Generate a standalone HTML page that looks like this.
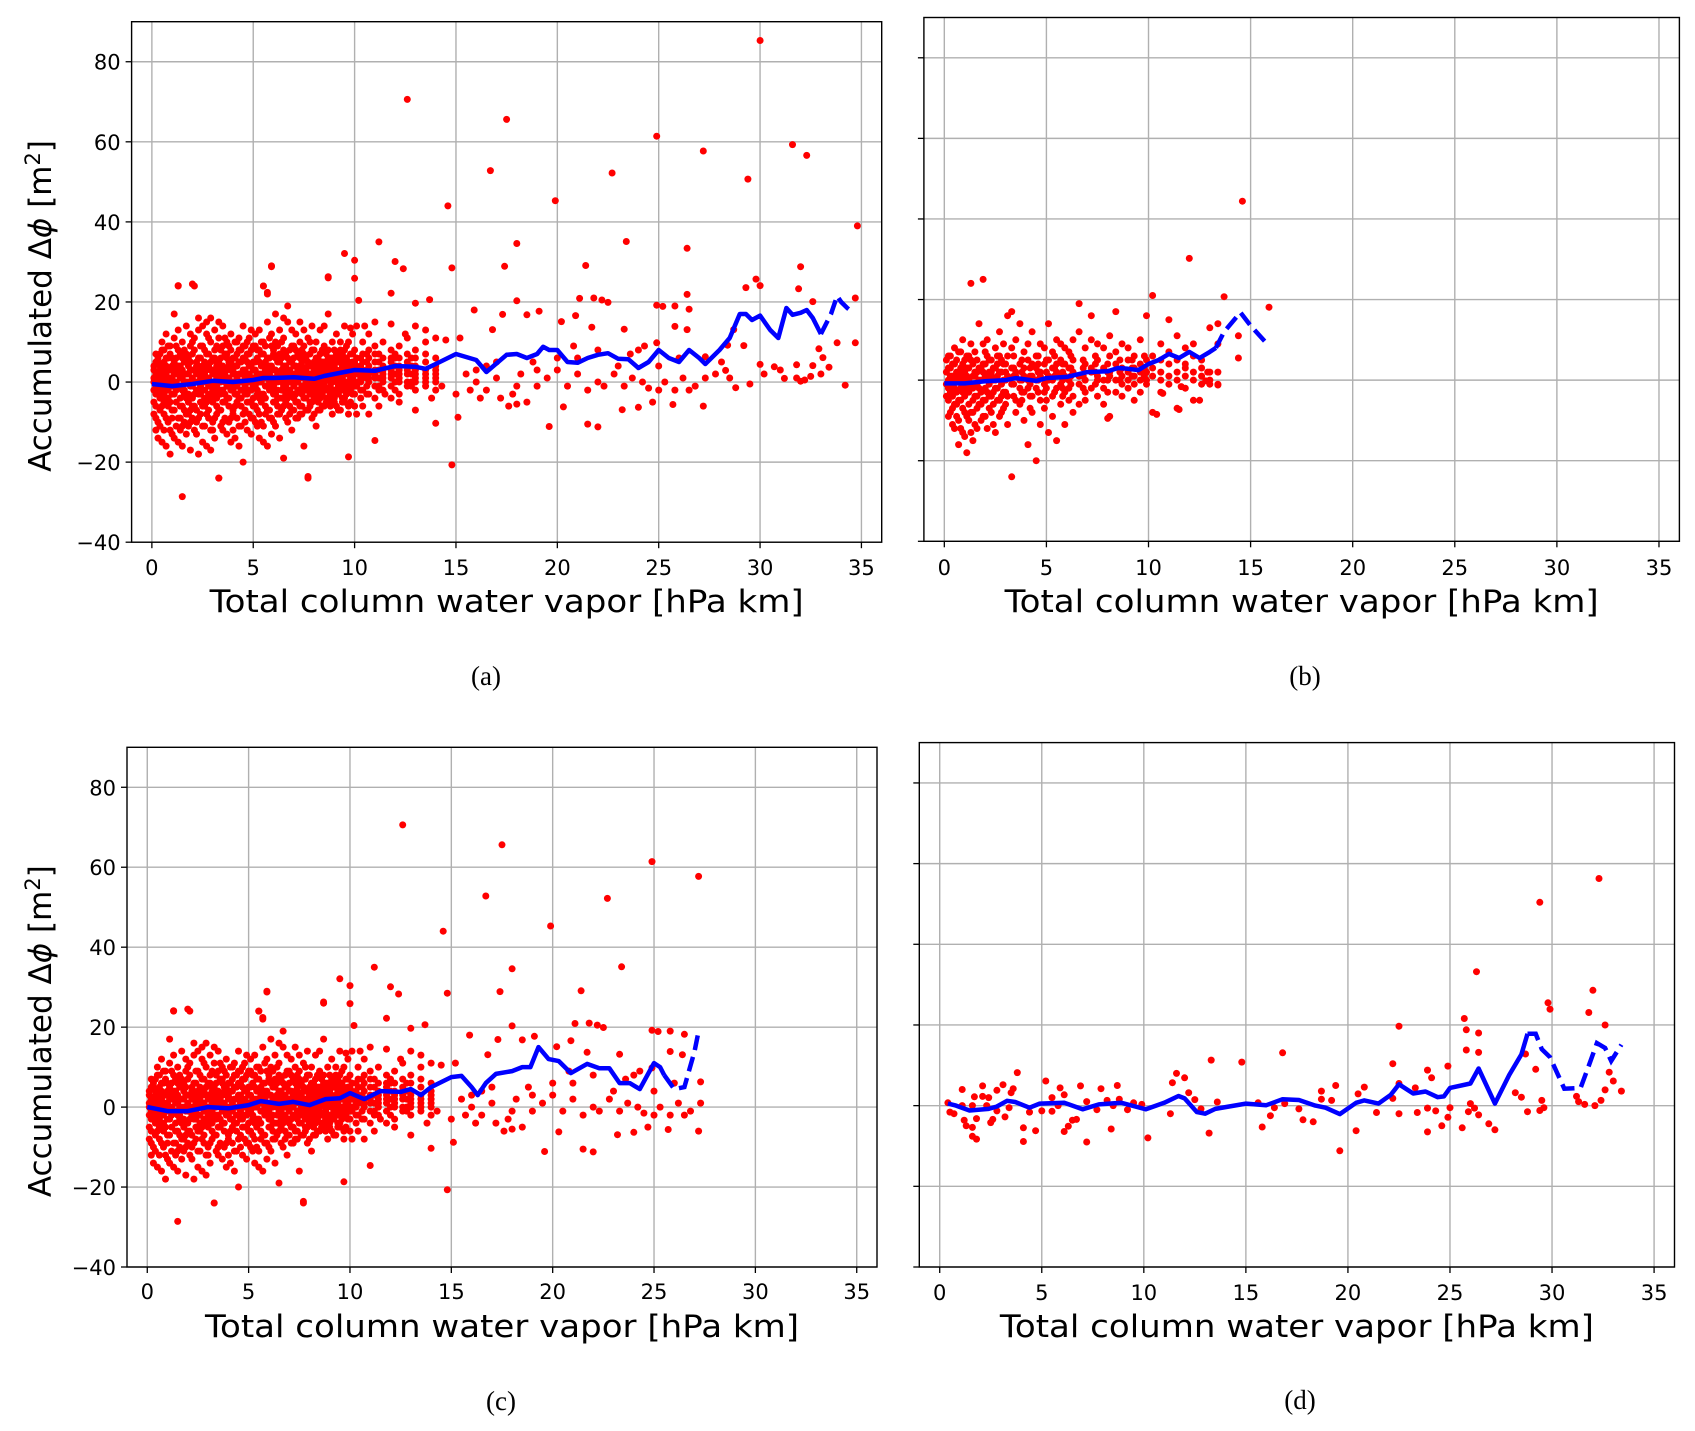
<!DOCTYPE html>
<html><head><meta charset="utf-8">
<style>
html,body{margin:0;padding:0;background:#fff;}
svg{display:block;}
text{font-family:"DejaVu Sans","Liberation Sans",sans-serif;fill:#000;}
.cap{font-family:"Liberation Serif",serif;}
</style></head>
<body>
<svg id="fig" width="1695" height="1431" viewBox="0 0 1695 1431" xmlns="http://www.w3.org/2000/svg"></svg>
<script>
// ---------- data ----------
const xTicks = [0,5,10,15,20,25,30,35];
const yTicks = [-40,-20,0,20,40,60,80];
const yTickLabels = ["\u221240","\u221220","0","20","40","60","80"];
const captions = ["(a)","(b)","(c)","(d)"];

// panel (a) dense cloud: x bins and y values
const cloudA = "0.1:-2,1,4,-5,-8,3,0;0.3:2,-3,5,-10,-14,0,6;0.5:-1,3,-6,8,-15,1,-4,10;0.7:0,-2,4,-9,12,-16,2,6;0.9:1,-5,7,-12,3,-18,9,-1;1.1:-3,2,5,-7,11,-14,17,0;1.3:4,-1,-9,8,-15,24,13,2;1.5:-2,6,-11,1,10,-16,3,-6;1.7:2,-4,7,-13,14,0,-8,5;1.9:-1,5,-7,9,-17,12,3,-10;2.1:3,-3,8,-12,24,0,-6,11;2.3:0,6,-9,13,-18,4,-3,16;2.5:-2,4,-11,9,2,-6,14,-15;2.7:1,-5,7,-8,12,-16,3,15;2.9:-1,3,10,-12,5,-4,16,-17;3.1:2,-3,8,-9,13,0,-14,6;3.3:0,5,-7,11,-24,15,-2,3;3.5:-2,4,-10,9,14,1,-5,-12;3.7:1,-4,7,-13,10,3,-1,6;3.9:3,-2,5,-9,12,-15,0,8;4.1:-1,6,-6,10,-14,2,-3,4;4.3:2,-4,8,-11,5,-16,0,11;4.5:0,3,-8,9,-20,14,-2,6;4.7:1,-5,5,-12,10,-3,7,2;4.9:-2,4,-9,8,-13,13,1,-5;5.1:3,-1,9,-6,12,0,-10,5;5.3:0,5,-4,13,-14,2,8,-8;5.5:2,-3,7,-11,24,4,-15,10;5.7:-1,6,-7,15,-16,1,22,3;5.9:1,-2,9,-9,29,4,-13,12;6.1:0,3,-5,10,-3,6,-11,17;6.3:2,-4,7,-8,13,1,-14,5;6.5:-1,4,-6,11,-19,8,0,16;6.7:1,-2,6,-10,15,3,-4,19;6.9:0,5,-7,9,2,-12,13,-3;7.1:2,-3,8,-5,12,0,-9,4;7.3:1,4,-6,10,15,-2,6,-8;7.5:-1,3,7,-4,13,1,-16,9;7.7:2,-2,5,-7,11,-24,0,4;7.9:0,4,-5,8,-9,14,2,-3;8.1:1,-3,6,10,-11,3,-1,5;8.3:2,4,-4,7,13,-2,0,-7;8.5:0,3,-6,9,-1,5,14,2;8.7:1,-2,6,17,26,3,-5,8;8.9:2,4,-4,10,0,-8,6,1;9.1:0,3,-3,7,12,-6,2,5;9.3:1,-2,5,10,-7,3,8,-1;9.5:2,4,-5,8,14,0,-4,6;9.7:0,3,-2,10,5,-6,2,-8;9.9:1,4,-3,7,0,12,-1,5;10.1:2,-1,6,3,14,-8,0,4;10.4:1,3,-2,7,5,10,-6,2;10.7:0,4,2,-3,8,6,1,12;11.0:3,-1,5,1,9,-4,2,7;11.4:2,0,6,4,-2,10,1,3;11.8:1,5,3,-1,8,2,-4,6;12.2:3,0,6,2,-3,9,4,1;12.6:2,5,-1,3,7,0,4,11;13.0:1,4,0,6,2,-2,3,8;13.5:2,0,5,-1,3,7,1,10;14.0:1,3,0,6,-2,4,2,11";
// denser core near zero (offset bins)
const coreA = "0.2:-6,-3,-1,1,2,5,7,-9,-12;0.4:-7,-4,-2,0,3,4,7,-11;0.6:-5,-3,-1,1,2,5,8,-8,-12;0.8:-6,-4,-2,0,3,6,9,-10;1.0:-7,-3,-1,1,4,6,-9,-13;1.2:-5,-2,0,2,3,6,9,-11;1.4:-6,-4,-1,1,4,7,-9,-12;1.6:-7,-3,-2,0,2,5,8,-10;1.8:-5,-3,0,2,4,6,-8,-11;2.0:-6,-4,-1,1,3,7,10,-9;2.2:-7,-2,0,2,4,5,-10,-13;2.4:-5,-3,-1,1,3,6,9,-8;2.6:-6,-4,-2,0,2,5,8,-11;2.8:-7,-3,-1,1,4,7,-9,11;3.0:-5,-2,0,2,3,6,-10,-12;3.2:-6,-4,-1,1,4,5,9,-8;3.4:-7,-3,-2,0,2,6,8,-11;3.6:-5,-3,0,2,3,7,-9,11;3.8:-6,-4,-1,1,4,5,-10,9;4.0:-7,-2,0,2,3,6,-8,-12;4.2:-5,-3,-1,1,4,7,-9,10;4.4:-6,-4,-2,0,2,5,8,-11;4.6:-7,-3,-1,1,3,6,-10,9;4.8:-5,-2,0,2,4,7,-8,11;5.0:-6,-4,-1,1,3,5,-9,9;5.2:-7,-3,-2,0,2,6,8,-11;5.4:-5,-3,0,2,4,7,-10,10;5.6:-6,-4,-1,1,3,5,-8,9;5.8:-7,-2,0,2,4,6,-9,11;6.0:-5,-3,-1,1,3,7,-10,8;6.2:-6,-4,-2,0,2,5,9,-8;6.4:-4,-2,0,1,3,6,-7,10;6.6:-5,-3,-1,2,4,7,-9;6.8:-6,-2,0,1,3,5,8,-8;7.0:-4,-3,-1,2,4,6,-7,9;7.2:-5,-2,0,1,3,7,-9;7.4:-6,-3,-1,2,4,5,-8,8;7.6:-4,-2,0,1,3,6,-7;7.8:-5,-3,-1,2,4,7,-6,10;8.0:-4,-2,0,1,3,5,-8,8;8.2:-5,-3,-1,2,4,6,-7;8.4:-3,-1,0,2,3,5,8,-6;8.6:-4,-2,1,3,4,7,-5;8.8:-3,-1,0,2,5,6,-6;9.0:-4,-2,1,3,4,8,-5;9.2:-3,-1,0,2,5,6,-7;9.4:-4,-2,1,3,4,7,-5;9.6:-3,-1,0,2,5,6,9;9.8:-2,0,1,3,4,7,-5;10.0:-3,-1,2,3,5,8,-6;10.3:-2,0,1,4,6,-4;10.6:-1,1,3,5,7,-3;11.2:-1,1,3,5,7,-2;12.0:0,2,4,6,-2;12.8:0,2,4,6,-1";
const sparseA = "12.6,70.6 30,85.3 17.5,65.6 24.9,61.4 31.6,59.3 32.3,56.6 27.2,57.7 16.7,52.8 22.7,52.2 29.4,50.7 14.6,44 19.9,45.3 34.8,39 11.2,35 23.4,35.1 18,34.6 26.4,33.4 9.5,32.1 10,30.4 12,30.1 12.4,28.3 5.9,28.8 17.4,28.9 21.4,29.1 14.8,28.5 32,28.8 8.7,26.3 10,25.9 29.8,25.7 29.3,23.6 30,24.1 31.9,23.3 1.3,24.1 2,24.5 5.5,24 5.7,22.4 11.8,22.2 26.4,21.9 21.8,21 21.1,20.9 22.2,20.5 22.5,19.9 24.9,19.2 25.2,18.9 25.8,19 32.6,20.1 34.7,21 18,20.3 13.7,20.6 13,19.7 10.2,20.4 26.5,18.2 15.9,18 19.1,17.7 17.3,16.9 18.5,16.8 20.9,16.6 20.2,15.1 25.8,13.9 26.4,13.1 16.8,13.1 23.3,13.2 21.7,13.7 28.7,13.1 24.9,9.8 34.7,9.8 33.8,9.8 28.4,9.2 29.2,9.1 32.9,8.3 33.1,6.1 33.4,3.7 30,4.4 30.7,3.8 31.8,4.3 32.6,4.1 28.1,5 27.3,6.3 28.3,2.9 34.2,-0.8 28.8,-1.4 29.5,-0.5 31.2,0.9 32,0.2 32.5,1.4 27.2,-6 25.7,-5.6 24.7,-5 24,-6.3 23.2,-6.9 20.3,-6.2 19.6,-11.1 21.5,-10.5 22,-11.2 14.8,-20.7 15.1,-8.8 14,-10.3 11,-14.6 9.7,-18.7 7.7,-23.6 3.3,-24 1.5,-28.6 15.5,2 16,0 16.5,-2 17,1 17.2,-4 17.8,-3 18.2,2 18.5,-5 19,3 19.5,1 20,6 20.5,-1 21,2 21.5,-2 22,0 22.3,-1 22.8,2 23.3,-1 23.7,1 24.2,0 24.5,-1.5 25,-2 25.3,0 25.8,-2 26.2,1 26.5,-2 26.8,-1 27.3,1 27.8,2 28.5,1 30.2,2 31,3 31.8,1 32.2,0.5 33,2 16,3 17,5 18,-1 19,-1 20,3 21,6 22,8 23,4 24,8 25,4 26,6 15,-3 16.5,4 18.8,5 20.8,9 23.6,7 24.3,9 14.5,10.5 15.2,11 13.5,13 13,14 12.5,12 12,7 12.2,-5 13,-7 11.5,-3 11.8,14.5 11,15 10.5,14 9.8,13.5 10.7,-8 11.2,-6 13.8,-4 14.3,-1 15.7,-2 16.2,-4 17.6,-6 18,-5.5";
const cloudB = "0.1:-1,2,-4,5;0.3:1,-3,6,-8,3;0.5:-2,4,-6,8,-12,0;0.7:2,-5,7,-10,-16,1;0.9:0,-3,10,-13,4,-7;1.1:3,-2,6,-18,-9,1;1.3:-1,5,-8,9,-13,24;1.5:1,-4,7,-11,2;1.7:-2,3,14,-6,0;1.9:2,-5,9,-9,4,25;2.1:0,6,-3,10,-12;2.3:1,-4,5,-8,2;2.5:-2,3,8,-13,0;2.7:2,-5,6,-9,12;2.9:0,4,-7,9,-3;3.1:1,16,-4,6,-11;3.3:-1,3,17,-24,8;3.5:2,-5,10,-8,1;3.7:0,4,-6,14,-2;3.9:1,-3,7,-10,3;4.1:-2,5,-16,9,0;4.3:1,-4,12,-8,4;4.5:0,3,-20,6,-2;4.7:2,-5,9,-11,1;4.9:-1,4,-7,8,-3;5.1:1,14,-13,5,0;5.3:0,-4,7,-9,3;5.5:2,4,-15,10,-2;5.7:-1,5,-6,9,1;5.9:1,-3,8,-11,4;6.1:0,3,-5,7,-2;6.3:2,-4,10,-8,5;6.6:1,19,-6,12,-1;6.9:0,4,-3,8,-5;7.2:2,-2,10,16,3;7.5:1,5,-4,9,0;7.8:0,3,-6,8,-2;8.1:2,-9,6,11,1;8.4:0,4,17,-3,7;8.7:1,-4,9,3,-1;9.0:2,5,-2,8,0;9.3:1,3,-5,6,-1;9.6:0,4,10,-3,2;9.9:2,-1,16,5,0;10.2:1,21,3,-8,6;10.6:0,5,-3,9,2;11.0:1,4,15,-1,7;11.4:2,-7,5,0,11;11.8:1,3,-2,8,4;12.2:0,6,-5,2,9;12.6:1,3,-1,5;13.0:0,13,2,-1;13.4:-1,14,2,9";
const coreB = "0.2:-5,-2,0,3,6,-9;0.4:-4,-1,1,4,-7,-11;0.6:-6,-3,0,2,5,-9;0.8:-5,-2,1,3,7,-12;1.0:-4,-1,2,5,-8,-14;1.2:-6,-3,0,3,6,-10;1.4:-5,-2,1,4,-8,-15;1.6:-4,-1,2,5,-7,-12;1.8:-6,-3,0,3,-10;2.0:-5,-2,1,4,7,-9;2.2:-4,-1,2,5,-7;2.4:-6,-3,0,3,-11;2.6:-5,-2,1,4,6;2.8:-4,-1,2,5,-8;3.0:-3,0,2,4,-6;3.4:-4,-1,1,3,6;3.8:-3,0,2,5,-5;4.2:-4,-1,1,3,-7;4.6:-3,0,2,4,6;5.0:-2,0,2,5,-5;5.4:-3,1,3,6;5.8:-2,0,2,4,-4;6.2:-1,1,3,6;6.8:-2,1,3,5;7.4:-1,2,4,6;8.0:0,2,4,-3;8.6:0,2,5;9.2:1,3,5;9.8:1,3,6";
const sparseB = "14.6,44.4 12,30.2 13.7,20.7 15.9,18.1 14.4,11 14.4,5.5 12.9,2 13.4,-1.2 12.5,-5 11.5,-7.3 10.4,-8.5 8,-9.5 10.7,-3.3 11.6,-1.6 12.8,-0.2";
const sparseD = "32.3,56.3 29.4,50.4 26.3,33.2 32,28.6 29.8,25.5 29.9,23.9 31.8,23.1 32.6,20 22.5,19.7 25.7,21.6 25.8,18.8 26.4,18 25.8,13.8 26.4,13.2 28.7,12.8 16.8,13.1 13.3,11.3 14.8,10.8 22.2,10.4 24.9,9.8 23.9,8.8 24.1,6.9 29.2,9 32.8,8.3 33,6.1 33.4,3.6 32.6,3.9 31.2,2.3 31.3,1 31.6,0.3 32.1,0 32.4,1.3 29.5,1.3 29.6,-0.5 29.4,-1.2 28.8,-1.5 28.2,3.2 28.5,2.1 26.9,-4.5 27.2,-6 26.4,-2.3 26.2,-0.6 26,0.5 25.9,-1.5 25.6,-5.5 25,-0.5 24.9,-2.9 24.6,-5 24.3,-1.3 23.9,-6.5 23.9,-0.6 23.4,-1.7 23.3,4.4 22.5,-2 22.5,5.5 22.2,1.8 21.4,-1.7 20.8,4.6 20.5,2.9 20.4,-6.2 19.6,-11.2 19.4,5 19.2,1.3 18.7,3.6 18.7,1.6 18.3,-4 17.8,-3.5 17.6,-0.8 16.9,0.5 16.4,-0.5 16.2,-2.5 15.8,-5.3 15.6,0.7 13.6,0.9 13.2,-6.8 12.8,-0.8 12.5,1.5 12.2,3.2 12,6.9 11.6,8 11.4,5.7 11.3,-2 10.2,-8 9.9,0.3 9.5,0.7 9.2,-1 8.8,1.6 8.7,5 8.5,0 8.4,-5.8 8.2,1.3 7.9,4.2 7.7,-1 7.2,1 7.2,-9 6.9,4.9 6.7,-3.4 6.5,-3.6 6.3,-5.1 6.1,-6.4 6.1,2.7 5.9,4.4 5.8,0 5.5,-1.4 5.5,2 5.2,6.1 5,-1.3 4.7,-6.2 4.4,-1.6 4.1,-8.9 4.1,-5.5 3.8,8.2 3.6,4.2 3.5,3.2 3.4,-0.5 3.2,-2.8 3.1,5.2 2.8,3.8 2.8,-1.3 2.6,-3.4 2.5,-4.2 2.4,2 2.3,0 2.1,2.3 2.1,4.9 1.8,-8.3 1.8,-3.2 1.7,2.2 1.6,-5.4 1.6,-7.6 1.6,0 1.3,-5 1.2,-3.6 1.1,4 1.1,0 0.7,-2 0.5,-1.6 0.4,0.7";

// mean curves: x values and y values (solid) + dashed tail
const lineAx = [0,1,2,3,4,5,5.5,6,7,8,8.5,9,10,11,12,13,13.5,14,15,16,16.5,17.5,18,18.5,19,19.3,19.6,20,20.5,21,21.5,22,22.5,23,23.5,24,24.5,25,25.5,26,26.5,27,27.3,28,28.5,29,29.3,29.6,30,30.5,30.9,31.3,31.6,32,32.3,32.6,33];
const lineAy = [-0.5,-1,-0.5,0.3,0,0.5,1,1,1.2,0.8,1.5,2,3,2.8,4,3.8,3.3,4.5,7,5.5,2.5,6.8,7,6,7,8.8,8,8,5,4.8,6,6.8,7.2,5.8,5.7,3.5,5,8,6,5,8,6,4.5,8,11,17,17,15.5,16.6,13,11,18.5,16.8,17.3,18,16,12];
const dashAx = [33,33.5,33.8,34,34.3,34.6];
const dashAy = [12,17,21.5,20,18.5,17.3];
const lineBx = [0,1,2,3,3.5,4.5,5,6,7,8,8.5,9,9.5,10,10.5,11,11.5,12,12.5,13,13.3];
const lineBy = [-0.8,-0.8,-0.3,0,0.5,-0.2,0.5,0.8,2,2.2,3,2.8,2.5,4,5,6.5,5.5,7,5.5,7,8];
const dashBx = [13.3,13.7,14.5,15,15.9];
const dashBy = [8,12,16.8,13.5,8.5];
const lineCx = [0,1,2,3,4,5,5.6,6.5,7.2,8,8.8,9.5,10,10.7,11.5,12.5,13,13.5,14,15,15.5,16,16.3,16.7,17.2,18,18.5,18.9,19.3,19.8,20.3,20.9,21.7,22.3,22.8,23.3,23.8,24.3,25,25.3,25.5];
const lineCy = [0,-1,-1,0,-0.3,0.5,1.5,0.8,1.3,0.5,2,2.2,3.5,2,4,3.8,4.5,3,5,7.5,7.8,5,3,6,8.3,9,10,10,15,12,11.5,8.5,10.8,9.7,9.7,6,6,4.5,11,10,8];
const dashCx = [25.5,26,26.5,27,27.2];
const dashCy = [8,4.5,5,14,19];
const lineDx = [0.4,0.8,1.46,2.4,2.8,3.3,3.7,4.4,4.9,6.1,6.5,7,7.8,8.9,10.1,11,11.7,12,12.6,13,13.5,15,16,16.8,17.6,18.4,18.9,19.6,20.4,20.8,21.5,22.1,22.5,23.2,23.8,24.4,24.7,25,26,26.4,27.2,27.9,28.5,28.8];
const lineDy = [0.5,0,-1.2,-0.8,-0.2,1.2,0.9,-0.5,0.5,0.7,0,-0.9,0.3,0.7,-0.9,0.7,2.4,1.8,-1.6,-2,-0.8,0.5,0.1,1.6,1.4,0,-0.5,-2.1,0.7,1.3,0.5,2.7,5.3,3,3.5,2.1,2.3,4.4,5.5,9.2,0.5,7.6,12.7,17.8];
const dashDx = [28.8,29.2,29.5,29.9,30.6,31.4,31.8,32.2,32.6,32.9,33.4];
const dashDy = [17.8,17.8,14,12,4.2,4.4,9.9,15.5,14.3,11.1,15.1];

// ---------- helpers ----------
const NS = "http://www.w3.org/2000/svg";
const fig = document.getElementById('fig');
function el(tag, attrs, parent){ const e=document.createElementNS(NS,tag); for(const k in attrs) e.setAttribute(k,attrs[k]); (parent||fig).appendChild(e); return e; }
function parseCloud(s){ const out=[]; s.split(';').forEach(b=>{const [x,ys]=b.split(':'); ys.split(',').forEach(y=>out.push([+x,+y]));}); return out; }
function parsePairs(s){ return s.trim().split(/\s+/).map(p=>p.split(',').map(Number)); }

const ptsA = parseCloud(cloudA).concat(parseCloud(coreA), parsePairs(sparseA));
const ptsB = parseCloud(cloudB).concat(parseCloud(coreB), parsePairs(sparseB));
const ptsC = ptsA.filter(p=>p[0] <= 27.3 && !(p[0]===26.4 && p[1] > 20));
const ptsD = parsePairs(sparseD);

const XMIN=-1, XMAX=36, YMIN=-40, YMAX=90;

const panels = [
 {id:'a', L:131.6, T:21.7, R:881.7, B:542.2, ylab:true, pts:ptsA, lx:lineAx, ly:lineAy, dx:dashAx, dy:dashAy, capX:486, capY:676, xlY:601, tkY:567},
 {id:'b', L:923.9, T:17.5, R:1679.4, B:541.3, ylab:false, pts:ptsB, lx:lineBx, ly:lineBy, dx:dashBx, dy:dashBy, capX:1305, capY:676, xlY:601, tkY:567},
 {id:'c', L:127, T:747.3, R:877, B:1267, ylab:true, pts:ptsC, lx:lineCx, ly:lineCy, dx:dashCx, dy:dashCy, capX:501, capY:1401, xlY:1326, tkY:1291},
 {id:'d', L:919.3, T:742.6, R:1674.5, B:1267, ylab:false, pts:ptsD, lx:lineDx, ly:lineDy, dx:dashDx, dy:dashDy, capX:1300, capY:1400, xlY:1326, tkY:1292}
];

panels.forEach((p,pi)=>{
  const sx = v => p.L + (v-XMIN)/(XMAX-XMIN)*(p.R-p.L);
  const sy = v => p.B - (v-YMIN)/(YMAX-YMIN)*(p.B-p.T);
  const g = el('g',{});
  
  
  const clipId='clip'+p.id;
  const cp = el('clipPath',{id:clipId},g);
  el('rect',{x:p.L,y:p.T,width:p.R-p.L,height:p.B-p.T},cp);
  const grid = el('g',{stroke:'#b0b0b0','stroke-width':1.4},g);
  
  
  xTicks.forEach(t=>el('line',{x1:sx(t),x2:sx(t),y1:p.T,y2:p.B},grid));
  yTicks.forEach(t=>el('line',{x1:p.L,x2:p.R,y1:sy(t),y2:sy(t)},grid));
  const sc = el('g',{fill:'#ff0000','clip-path':'url(#'+clipId+')'},g);
  
  
  p.pts.forEach(q=>{
    const c = el('circle',{cx:sx(q[0]).toFixed(1),cy:sy(q[1]).toFixed(1),r:3.5},sc);
    
    
  });
  const solid = el('polyline',{points:p.lx.map((x,i)=>sx(x).toFixed(1)+','+sy(p.ly[i]).toFixed(1)).join(' '),fill:'none',stroke:'#0000ff','stroke-width':4.5,'stroke-linejoin':'round'},g);
  
  
  const dash = el('polyline',{points:p.dx.map((x,i)=>sx(x).toFixed(1)+','+sy(p.dy[i]).toFixed(1)).join(' '),fill:'none',stroke:'#0000ff','stroke-width':4.5,'stroke-dasharray':'15 7'},g);
  
  
  const fr = el('rect',{x:p.L,y:p.T,width:p.R-p.L,height:p.B-p.T,fill:'none',stroke:'#000','stroke-width':1.4},g);
  
  
  xTicks.forEach(t=>{
    el('line',{x1:sx(t),x2:sx(t),y1:p.B,y2:p.B+6,stroke:'#000','stroke-width':1.3},g);
    const tl = el('text',{x:sx(t),y:p.tkY+8,'text-anchor':'middle','font-size':21},g);
    tl.textContent = String(t);
    
    
  });
  yTicks.forEach((t,i)=>{
    el('line',{x1:p.L-6,x2:p.L,y1:sy(t),y2:sy(t),stroke:'#000','stroke-width':1.3},g);
    if(p.ylab){
      const tl = el('text',{x:p.L-11,y:sy(t)+8,'text-anchor':'end','font-size':21},g);
      tl.textContent = yTickLabels[i];
      
      
    }
  });
  const xl = el('text',{x:(p.L+p.R)/2,y:p.xlY+11,'text-anchor':'middle','font-size':31,textLength:594,lengthAdjust:'spacingAndGlyphs'},g);
  xl.textContent = 'Total column water vapor [hPa km]';
  
  
  if(p.ylab){
    const cy=(p.T+p.B)/2+24;
    const yl = el('text',{transform:'translate(51,'+cy+') rotate(-90)','text-anchor':'middle','font-size':31},g);
    yl.innerHTML = 'Accumulated \u0394<tspan font-style="italic">\u03d5</tspan> [m<tspan dy="-11" font-size="21">2</tspan><tspan dy="11">]</tspan>';
    
    
  }
  const cap = el('text',{x:p.capX,y:p.capY+9,'text-anchor':'middle','font-size':27,'class':'cap'},g);
  cap.textContent = captions[pi];
  
  
});
</script>
</body></html>
